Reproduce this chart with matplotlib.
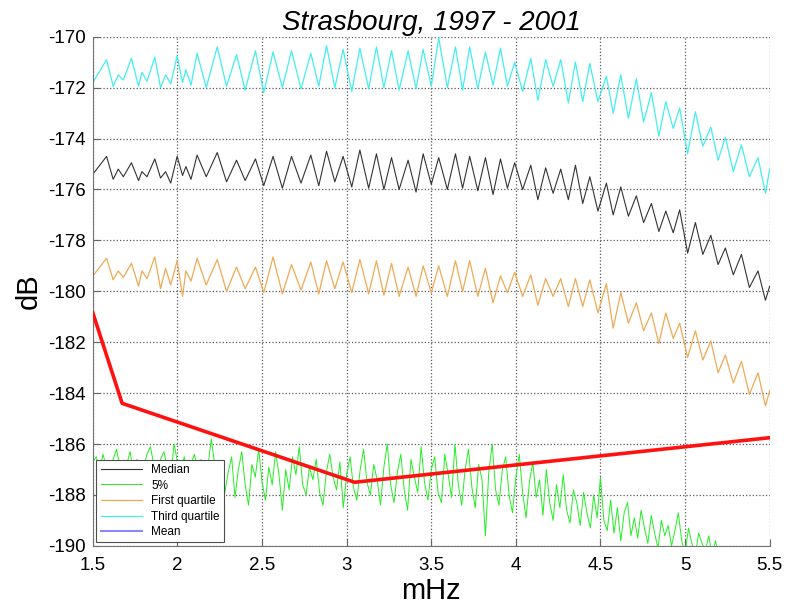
import matplotlib
matplotlib.use("Agg")
import matplotlib.pyplot as plt
import numpy as np

plt.rcParams["font.family"] = ["Liberation Sans", "DejaVu Sans"]
plt.rcParams["axes.unicode_minus"] = False

# frequencies (mHz) of the peaks and troughs shared by the quartile curves
peak_f = [1.581, 1.65, 1.728, 1.79, 1.866, 1.93, 1.998, 2.05, 2.116, 2.235,
          2.349, 2.461, 2.565, 2.674, 2.788, 2.881, 2.979, 3.078, 3.176, 3.265,
          3.363, 3.452, 3.544, 3.643, 3.727, 3.820, 3.909, 3.993, 4.088, 4.176,
          4.265, 4.352, 4.437, 4.535, 4.620, 4.712, 4.801, 4.886, 4.968, 5.061,
          5.152, 5.238, 5.333, 5.431, 5.50]
trough_f = [1.50, 1.62, 1.68, 1.77, 1.82, 1.90, 1.96, 2.03, 2.08, 2.17,
            2.29, 2.40, 2.51, 2.62, 2.73, 2.835, 2.93, 3.03, 3.13, 3.22,
            3.31, 3.41, 3.50, 3.595, 3.685, 3.775, 3.865, 3.95, 4.04, 4.13,
            4.22, 4.31, 4.395, 4.485, 4.575, 4.665, 4.755, 4.845, 4.93, 5.015,
            5.105, 5.195, 5.285, 5.38, 5.475]

median_peak = [-174.7, -175.2, -174.95, -175.3, -174.8, -175.3, -174.7, -175.1, -174.65, -174.55,
               -174.85, -174.8, -174.7, -174.7, -174.65, -174.5, -174.7, -174.45, -174.6, -174.75,
               -174.85, -174.6, -174.75, -174.6, -174.7, -174.75, -174.8, -174.95, -175.05, -175.15,
               -175.2, -175.05, -175.5, -175.75, -175.9, -176.25, -176.55, -176.85, -176.8, -177.3,
               -177.8, -178.3, -178.55, -179.2, -179.8]
median_trough = [-175.4, -175.6, -175.5, -175.65, -175.5, -175.55, -175.75, -175.45, -175.6, -175.5,
                 -175.7, -175.65, -175.85, -175.95, -175.75, -175.85, -175.7, -175.9, -175.95, -176.0,
                 -176.0, -176.1, -175.8, -176.0, -175.95, -176.05, -176.2, -175.95, -176.0, -176.4,
                 -176.15, -176.4, -176.55, -176.85, -177.0, -177.05, -177.3, -177.65, -177.7, -178.5,
                 -178.55, -178.95, -179.35, -179.85, -180.35]

q3_peak = [-170.9, -171.5, -170.85, -171.4, -170.8, -171.5, -170.75, -171.3, -170.65, -170.4,
           -170.7, -170.55, -170.6, -170.55, -170.65, -170.35, -170.5, -170.45, -170.4, -170.55,
           -170.55, -170.5, -170.05, -170.4, -170.4, -170.6, -170.45, -171.0, -170.85, -170.9,
           -170.9, -171.0, -171.05, -171.55, -171.5, -171.65, -172.2, -172.55, -172.8, -172.95,
           -173.55, -173.95, -174.25, -174.75, -175.2]
q3_trough = [-171.8, -171.95, -171.7, -171.95, -171.75, -172.0, -171.85, -171.8, -171.9, -172.0,
             -171.95, -172.1, -172.2, -172.0, -172.05, -171.95, -172.0, -172.15, -172.05, -172.0,
             -172.1, -172.05, -171.95, -172.0, -172.1, -172.05, -171.9, -171.95, -172.15, -172.5,
             -171.95, -172.6, -172.55, -172.55, -173.0, -173.2, -173.35, -173.9, -173.6, -174.6,
             -174.3, -174.85, -175.3, -175.5, -176.15]

q1_peak = [-178.7, -179.2, -178.9, -179.2, -178.65, -179.1, -178.8, -179.2, -178.7, -178.75,
           -179.05, -179.05, -178.65, -178.95, -178.85, -178.8, -178.85, -178.75, -178.8, -178.9,
           -179.05, -179.0, -179.0, -178.8, -178.8, -179.1, -179.4, -179.25, -179.35, -179.5,
           -179.5, -179.5, -179.55, -179.7, -180.05, -180.45, -180.85, -180.85, -181.25, -181.55,
           -181.95, -182.5, -182.75, -183.2, -183.9]
q1_trough = [-179.4, -179.55, -179.45, -179.8, -179.5, -179.9, -179.75, -180.2, -179.6, -179.75,
             -180.0, -179.9, -180.05, -180.1, -179.95, -180.1, -179.9, -180.05, -180.1, -180.15,
             -180.2, -180.2, -180.05, -180.2, -180.0, -180.2, -180.45, -180.05, -180.2, -180.55,
             -180.2, -180.6, -180.6, -180.85, -181.45, -181.25, -181.55, -182.05, -181.85, -182.6,
             -182.7, -183.2, -183.6, -184.05, -184.5]

# 5 % curve, one value every 0.02 mHz from 1.50 to 5.20
p5_values = [
    -186.7, -186.5, -187.0, -186.4, -186.9, -187.3, -186.6, -186.2, -186.9, -187.4,
    -186.8, -186.3, -187.1, -186.6, -187.5, -186.9, -186.4, -186.1, -186.8, -187.2,
    -186.6, -186.3, -186.9, -187.3, -186.0, -186.7, -187.1, -186.5, -187.4, -186.8,
    -186.4, -187.0, -186.6, -187.6, -186.9, -185.8, -186.8, -187.5, -186.7, -187.9,
    -187.1, -186.5, -188.1, -187.0, -186.3, -187.6, -188.4, -186.8, -187.3, -186.2,
    -187.5, -188.2, -186.9, -187.6, -186.3, -187.2, -188.6, -187.0, -187.8, -186.5,
    -187.2, -186.1, -187.6, -188.0, -186.9, -187.4, -186.6, -187.9, -188.4, -187.1,
    -186.4, -187.3, -187.8, -186.7, -188.5, -187.2, -186.5, -187.7, -188.2, -187.0,
    -186.2, -187.5, -188.0, -186.8, -187.4, -188.4, -186.9, -186.0, -187.6, -188.3,
    -187.1, -186.4, -187.8, -188.6, -186.6, -187.3, -187.9, -186.1, -187.5, -188.2,
    -187.0, -186.5, -187.9, -188.3, -186.4, -187.2, -188.1, -186.0, -187.6, -188.4,
    -187.0, -186.2, -187.7, -188.5, -186.8, -187.4, -189.6, -187.1, -186.0, -187.8,
    -188.4, -187.0, -186.5, -188.0, -188.7, -187.3, -186.4, -187.9, -188.9, -187.5,
    -186.7, -188.1, -187.4, -188.8, -187.0, -188.3, -189.0, -187.6, -188.5, -187.2,
    -188.6, -189.1, -187.8, -188.3, -189.2, -187.9, -188.7, -189.3, -188.0, -188.9,
    -187.3, -189.0, -189.4, -188.2, -189.5, -188.5, -189.8, -188.7, -188.3, -189.6,
    -188.9, -189.7, -188.6, -189.3, -189.9, -188.8, -189.5, -190.1, -189.0, -189.6,
    -189.2, -190.0, -189.4, -188.7, -189.8, -190.3, -189.3, -189.9, -190.4, -189.5,
    -189.9, -190.2, -189.6, -190.4, -189.8, -190.5,
]
p5_freq = np.round(np.arange(len(p5_values)) * 0.02 + 1.5, 3)

# red reference model
nlnm_f = [1.5, 1.673, 3.047, 5.5]
nlnm_db = [-180.85, -184.4, -187.5, -185.75]


def merge(peaks, troughs):
    f = np.array(peak_f + trough_f)
    v = np.array(peaks + troughs)
    order = np.argsort(f)
    return f[order], v[order]


fig = plt.figure(figsize=(7.87, 6.12), dpi=100)
ax = fig.add_axes([0.118, 0.108, 0.860, 0.832])

f, v = merge(median_peak, median_trough)
ax.plot(f, v, color="#333333", lw=0.8, label="Median")
ax.plot(p5_freq, p5_values, color="#22ee22", lw=0.7, label="5%")
f, v = merge(q1_peak, q1_trough)
ax.plot(f, v, color="#eeaa55", lw=0.9, label="First quartile")
f, v = merge(q3_peak, q3_trough)
ax.plot(f, v, color="#44eeee", lw=0.9, label="Third quartile")
ax.plot([], [], color="#8888ff", lw=1.5, label="Mean")
ax.plot(nlnm_f, nlnm_db, color="#ff1111", lw=2.6, zorder=5)

ax.set_xlim(1.5, 5.5)
ax.set_ylim(-190, -170)
ax.set_xticks(np.arange(1.5, 5.51, 0.5))
ax.set_xticklabels(["1.5", "2", "2.5", "3", "3.5", "4", "4.5", "5", "5.5"])
ax.set_yticks(np.arange(-190, -169, 2))
ax.tick_params(direction="in", length=5, labelsize=13.5, color="0.4")
ax.tick_params(axis="x", pad=8)
ax.tick_params(axis="y", pad=5)
ax.grid(True, linestyle=":", color="0.35", lw=0.9)
ax.spines["top"].set_visible(False)
ax.spines["right"].set_visible(False)
ax.spines["left"].set_color("0.45")
ax.spines["bottom"].set_color("0.45")

ax.set_title("Strasbourg, 1997 - 2001", fontsize=20, style="italic", pad=5)
ax.set_xlabel("mHz", fontsize=21, labelpad=2)
ax.set_ylabel("dB", fontsize=21, labelpad=4)

leg = ax.legend(loc="lower left", fontsize=8.5, fancybox=False, framealpha=1,
                edgecolor="0.3", borderaxespad=0.3, handlelength=3.5,
                labelspacing=0.3, borderpad=0.35)
leg.get_frame().set_linewidth(0.8)
leg.set_zorder(10)

fig.savefig("out.png", dpi=100)
